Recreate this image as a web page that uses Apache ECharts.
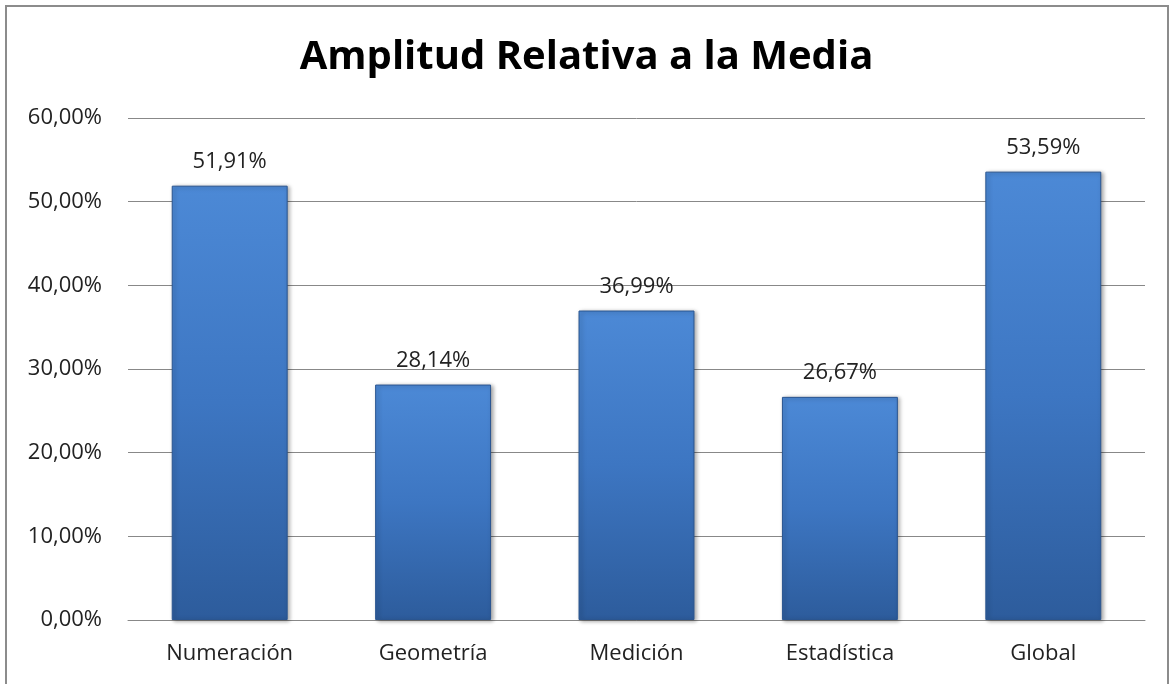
<!DOCTYPE html>
<html><head><meta charset="utf-8">
<script src="https://cdn.jsdelivr.net/npm/echarts@6/dist/echarts.min.js"></script>
<style>html,body{margin:0;padding:0;background:#fff}#frame{position:absolute;left:5px;top:5px;width:1164px;height:690px;border:2px solid #8c8c8c;box-sizing:border-box}#c{width:1173px;height:684px;position:absolute;left:0;top:0}</style>
</head><body><div id="frame"></div><div id="c"></div>
<script>
const categories = ["Numeración", "Geometría", "Medición", "Estadística", "Global"];
const values = [51.91, 28.14, 36.99, 26.67, 53.59];
const yTicks = [0, 10, 20, 30, 40, 50, 60];
const fmt = v => v.toFixed(2).replace('.', ',') + '%';
const chart = echarts.init(document.getElementById('c'), null, {renderer: 'canvas'});
const font = 'Open Sans';
chart.setOption({
  animation: false,
  title: {text: 'Amplitud Relativa a la Media', left: 'center', top: 33,
    textStyle: {fontFamily: font, fontWeight: 'bold', fontSize: 40, color: '#000'}},
  grid: {left: 128, right: 28, top: 118, bottom: 64},
  xAxis: {type: 'category', data: categories,
    axisLine: {lineStyle: {color: '#888', width: 1}}, axisTick: {show: false},
    axisLabel: {fontFamily: font, fontSize: 22, color: '#222', margin: 23}},
  yAxis: {type: 'value', min: yTicks[0], max: yTicks[yTicks.length - 1], interval: 10,
    axisLine: {show: false}, axisTick: {show: false},
    splitLine: {lineStyle: {color: '#888', width: 1}},
    axisLabel: {fontFamily: font, fontSize: 22, color: '#222', margin: 26,
      formatter: v => fmt(v)}},
  series: [{type: 'bar', data: values, barWidth: '57%',
    itemStyle: {
      color: new echarts.graphic.LinearGradient(0, 0, 0, 1, [
        {offset: 0, color: '#4c89d6'}, {offset: 0.5, color: '#3d76c2'}, {offset: 1, color: '#2d5c9c'}]),
      borderColor: '#2a5590', borderWidth: 1,
      shadowColor: 'rgba(0,0,0,0.35)', shadowBlur: 4, shadowOffsetX: 2, shadowOffsetY: 1},
    label: {show: true, position: 'top', distance: 13, fontFamily: font, fontSize: 22, color: '#222',
      formatter: p => fmt(p.value)}}]
});
</script></body></html>
